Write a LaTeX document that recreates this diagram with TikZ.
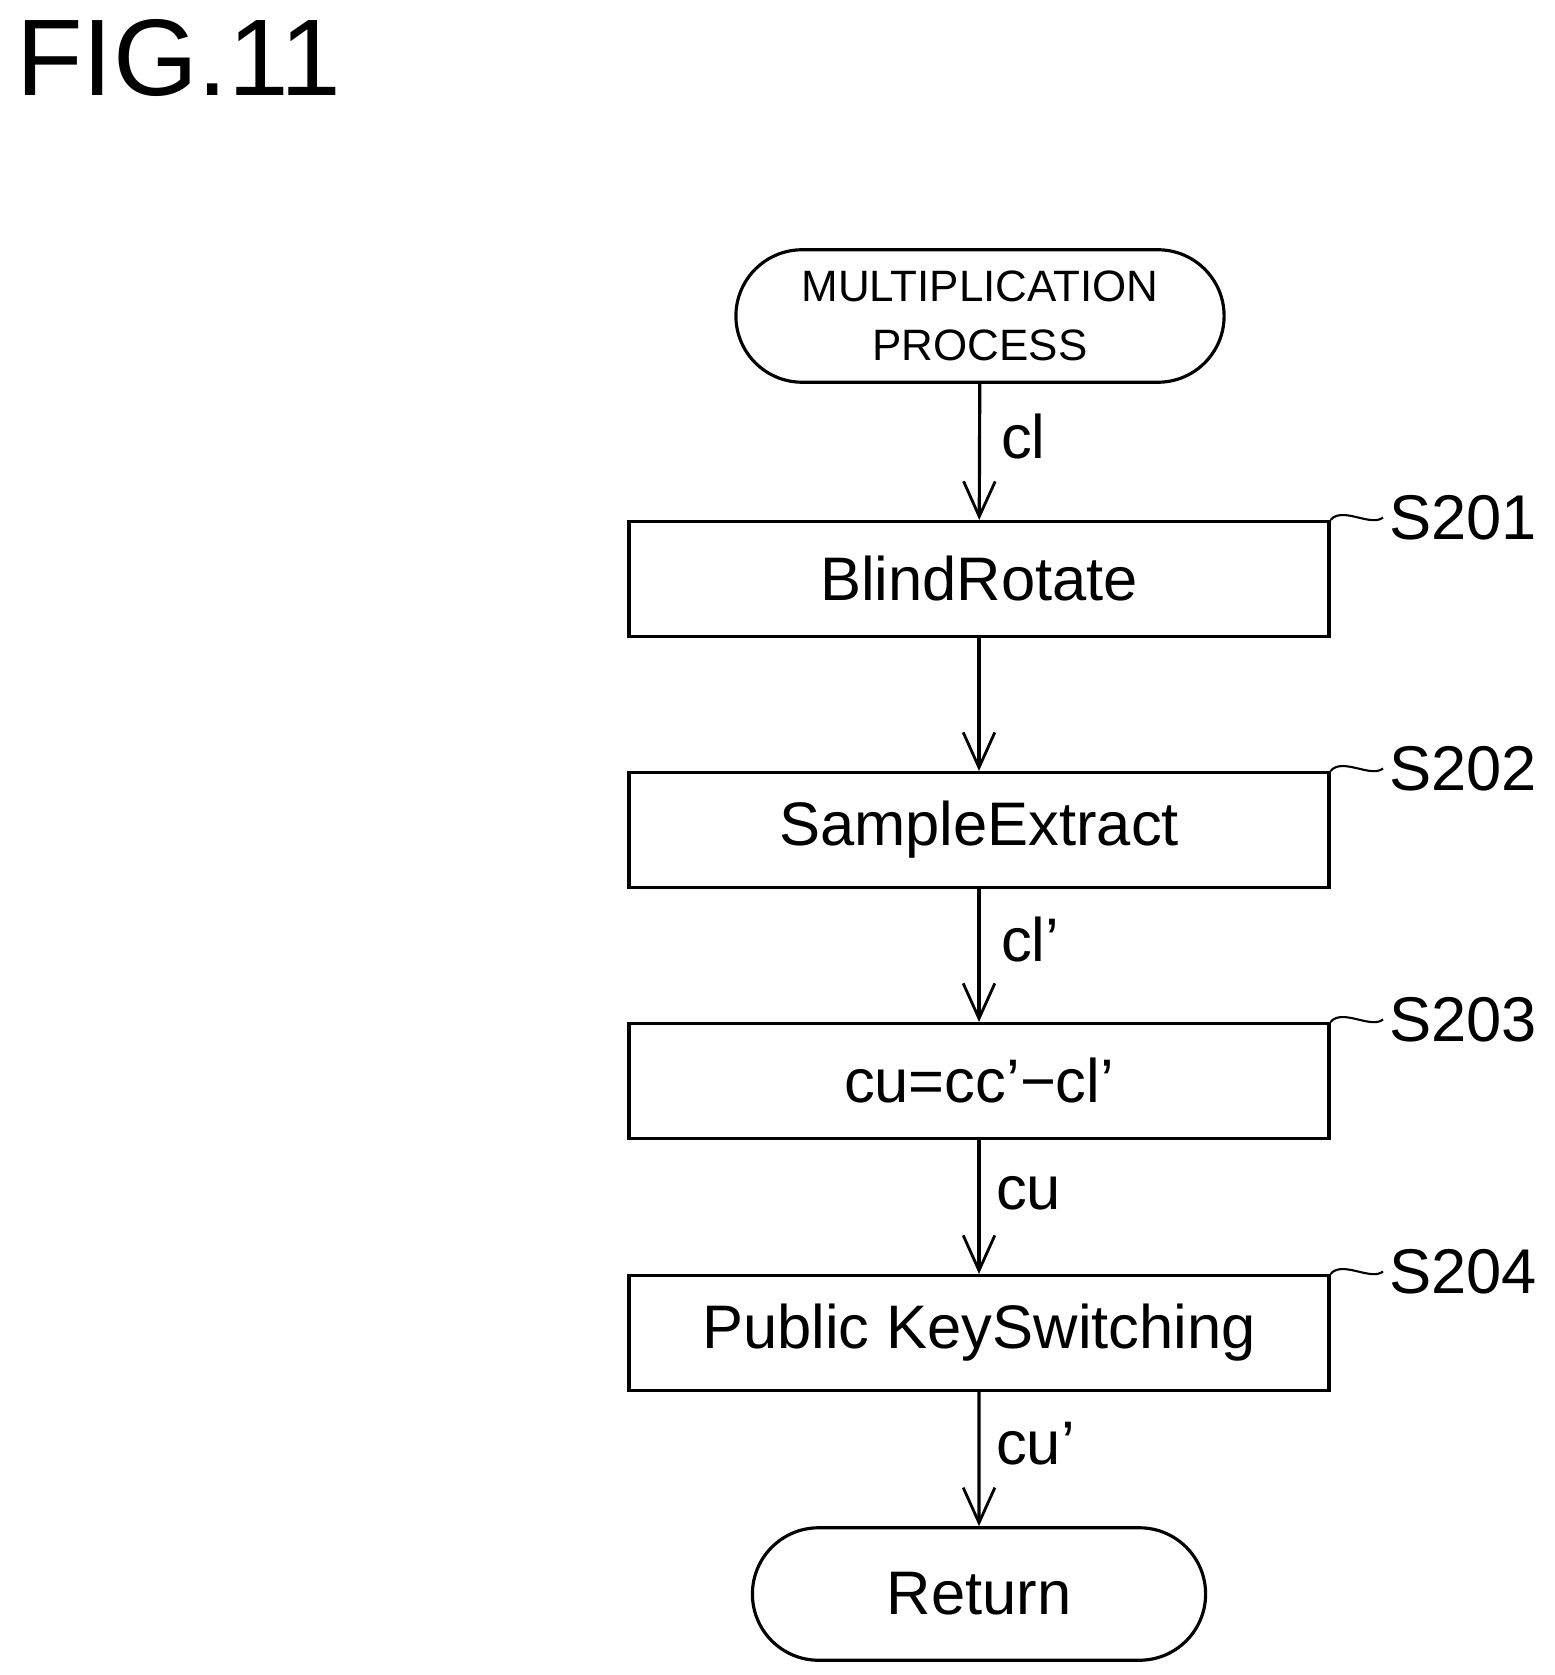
\documentclass[tikz,border=0pt]{standalone}
\usepackage{fontspec}
\setmainfont{Liberation Sans}
\usetikzlibrary{arrows.meta,shapes.misc}

\begin{document}
\begin{tikzpicture}[x=0.02cm,y=-0.02cm]

\tikzset{proc/.style={draw,line width=1.8pt,minimum width=14cm,minimum height=2.3cm,font=\fontsize{35}{40}\selectfont},
  term/.style={draw,line width=1.8pt,rounded rectangle,minimum width=10cm,minimum height=2.65cm,align=center},
  flow/.style={line width=1.8pt,-{Straight Barb[length=20pt,width=18pt,line width=1.6pt]}},
  lbl/.style={font=\fontsize{35}{40}\selectfont,anchor=west},
  tag/.style={font=\fontsize{36}{40}\selectfont,anchor=west}}

\useasboundingbox (0,0) rectangle (1554,1675);

\node[anchor=west,font=\fontsize{62}{70}\selectfont] (fig) at (10,58) {FIG.11};

\node[term,font=\fontsize{25}{34}\selectfont] (start) at (980,316) {MULTIPLICATION\\PROCESS};
\node[proc] (s1) at (979,579) {BlindRotate};
\node[proc] (s2) at (979,830) {SampleExtract};
\node[proc] (s3) at (979,1081) {cu=cc'−cl'};
\node[proc] (s4) at (979,1333) {Public KeySwitching};
\node[term,minimum width=9.3cm,font=\fontsize{35}{40}\selectfont] (ret) at (979,1594) {Return};

\draw[flow] (start) -- (s1);
\draw[flow] (s1) -- (s2);
\draw[flow] (s2) -- (s3);
\draw[flow] (s3) -- (s4);
\draw[flow] (s4) -- (ret);

\node[lbl] (l1) at (995,437) {cl};
\node[lbl] (l2) at (995,940) {cl'};
\node[lbl] (l3) at (990,1193) {cu};
\node[lbl] (l4) at (990,1444) {cu'};

% step tags
\foreach \n/\t in {s1/S201,s2/S202,s3/S203,s4/S204}{
  \node[tag] (\n tag) at ([xshift=1.05cm,yshift=0.05cm]\n.north east) {\t};
  \draw[line width=1.2pt] (\n.north east) .. controls +(12,-14) and +(-12,10) .. (\n tag.west);
}

\end{tikzpicture}
\end{document}
